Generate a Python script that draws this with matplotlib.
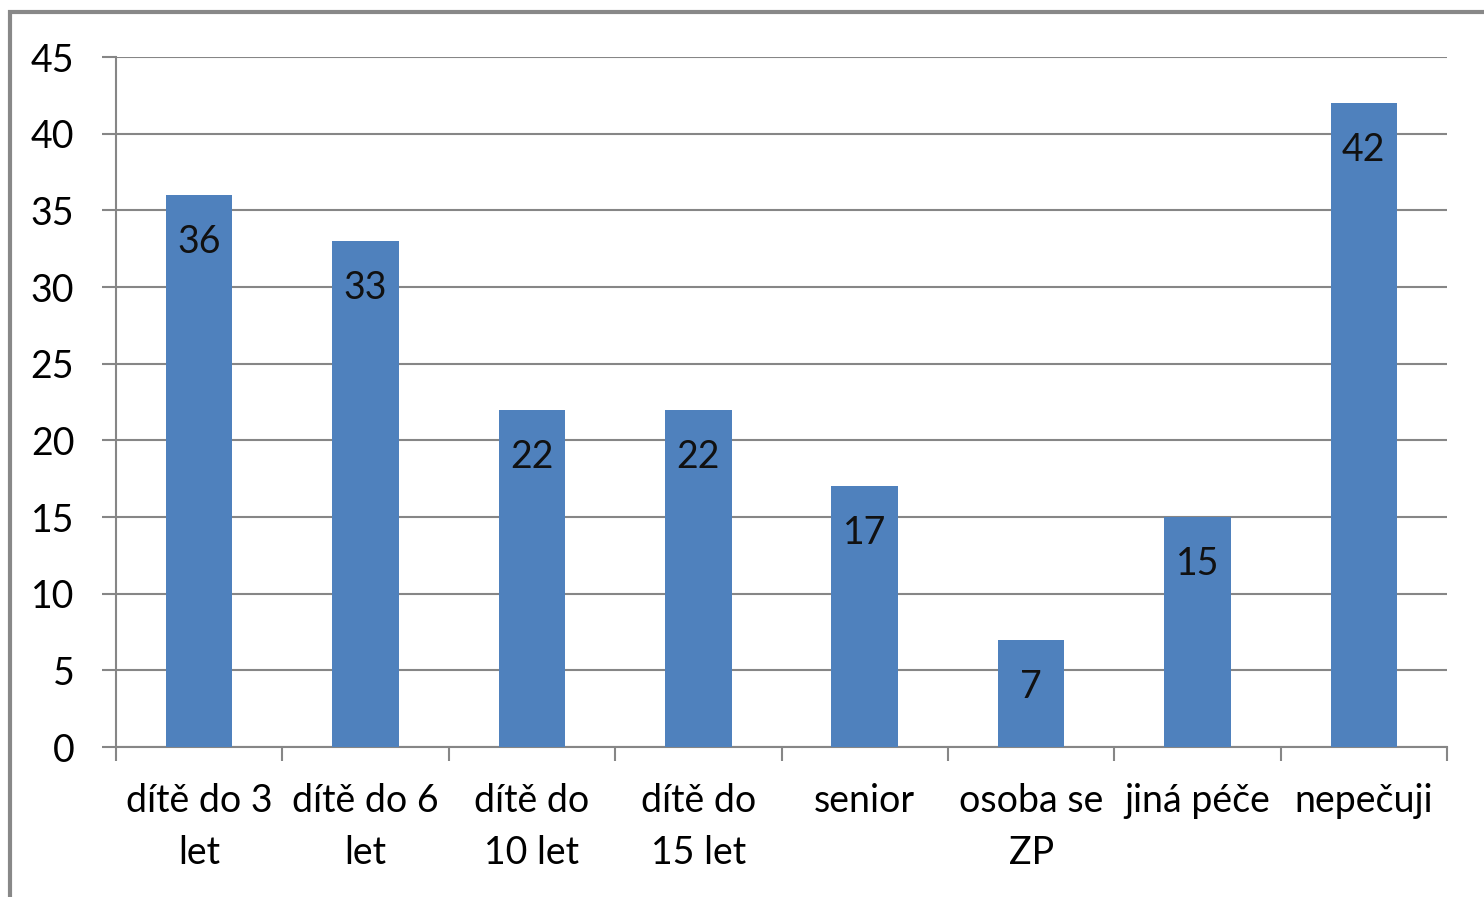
import matplotlib.pyplot as plt
from matplotlib.patches import Rectangle

# data
categories = ["dítě do 3\nlet", "dítě do 6\nlet", "dítě do\n10 let", "dítě do\n15 let",
              "senior", "osoba se\nZP", "jiná péče", "nepečuji"]
values = [36, 33, 22, 22, 17, 7, 15, 42]
yticks = [0, 5, 10, 15, 20, 25, 30, 35, 40, 45]

BAR_COLOR = "#4F81BD"
GRID_COLOR = "#868686"
FS = 27

plt.rcParams['font.family'] = ['Lato', 'DejaVu Sans']

fig = plt.figure(figsize=(14.84, 8.97), dpi=100)
ax = fig.add_axes([116 / 1484, 1 - 747 / 897, (1447 - 116) / 1484, (747 - 57) / 897])

x = list(range(len(values)))
bars = ax.bar(x, values, width=0.40, color=BAR_COLOR, zorder=3)

for xi, v in zip(x, values):
    ax.annotate(str(v), (xi, v), xytext=(0, -47), textcoords="offset pixels",
                ha="center", va="center", fontsize=FS, color="#111111", zorder=4)

ax.set_xlim(-0.5, len(values) - 0.5)
ax.set_ylim(0, 45)
ax.set_yticks(yticks)
ax.set_yticklabels([str(t) for t in yticks], fontsize=FS)
ax.yaxis.grid(True, color=GRID_COLOR, linewidth=1.5, zorder=0)
ax.set_axisbelow(True)

# category labels at centres, tick marks at boundaries
ax.set_xticks(x)
ax.set_xticklabels(categories, fontsize=FS, linespacing=1.55)
ax.tick_params(axis="x", which="major", length=0, pad=26)
ax.set_xticks([i - 0.5 for i in range(len(values) + 1)], minor=True)
ax.tick_params(axis="x", which="minor", length=10, color=GRID_COLOR, width=1.5)
ax.tick_params(axis="y", length=10, color=GRID_COLOR, width=1.5, pad=20)

for side in ["top", "right"]:
    ax.spines[side].set_visible(False)
for side in ["left", "bottom"]:
    ax.spines[side].set_color(GRID_COLOR)
    ax.spines[side].set_linewidth(1.5)

# outer chart border (left and top visible)
fig.patches.append(Rectangle((10 / 1484, -0.1), 1.2, 1 - 12 / 897 + 0.1,
                             transform=fig.transFigure, fill=False,
                             edgecolor="#888888", linewidth=3))

fig.savefig("out.png", dpi=100)
